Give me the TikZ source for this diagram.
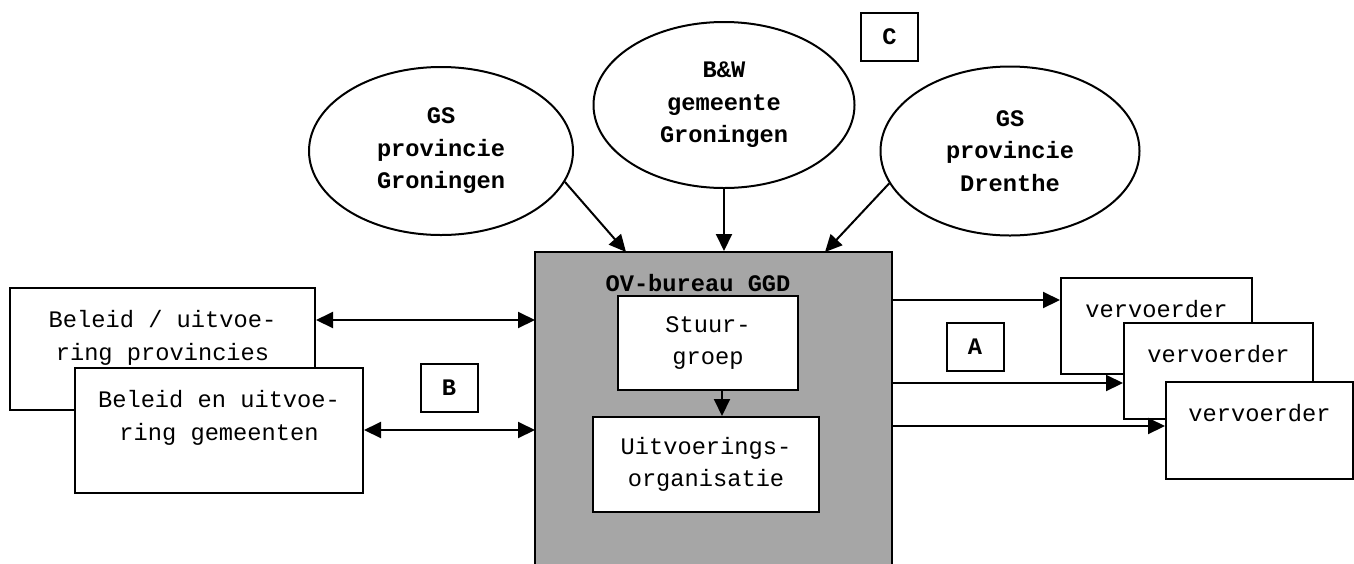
\documentclass[tikz,border=0pt]{standalone}
\usepackage{fontspec}
\setmainfont{Liberation Mono}
\usetikzlibrary{arrows.meta,positioning,shapes.geometric}

\begin{document}
\begin{tikzpicture}[x=0.5pt,y=-0.5pt]
						\tikzstyle{every node}=[font=\fontsize{11.85}{16.25}\selectfont]
						\tikzstyle{organ}=[ellipse,draw=black,line width=1pt,align=center,inner sep=0pt,font=\fontsize{11.85}{16.25}\selectfont\bfseries]
						\tikzstyle{box}=[rectangle,draw=black,line width=1pt,fill=white,align=center,inner sep=0pt]
						\tikzstyle{tag}=[rectangle,draw=black,line width=1pt,fill=white,minimum width=28.5pt,minimum height=24pt,font=\fontsize{11.85}{16.25}\selectfont\bfseries]
						\tikzstyle{toptxt}=[inner sep=0pt,align=center]
						\tikzstyle{link}=[line width=1pt,-{Triangle[length=8.5pt,width=8pt]}]
						\tikzstyle{duplex}=[line width=1pt,{Triangle[length=8.5pt,width=8pt]}-{Triangle[length=8.5pt,width=8pt]}]
						\useasboundingbox (0,0) rectangle (1354,563);
						\clip (0,0) rectangle (1354,563);
						\fill[white] (0,0) rectangle (1354,563);
						% besturen
						\node[organ,minimum width=132pt,minimum height=84pt] (gsgr) at (441,151) {GS\\provincie\\Groningen};
						\node[organ,minimum width=130.5pt,minimum height=83pt] (bw) at (724,105) {B\&W\\gemeente\\Groningen};
						\node[organ,minimum width=129.5pt,minimum height=84.5pt] (gsdr) at (1010,151) {GS\\provincie\\Drenthe};
						\node[tag] (c) at (889.5,36.5) {C};
						% ov-bureau
						\node[box,fill=black!35,minimum width=178.5pt,minimum height=164pt] (ov) at (713.5,416) {};
						\node[font=\fontsize{11.85}{16.25}\selectfont\bfseries] (ovname) at (698,283) {OV-bureau GGD};
						\node[box,minimum width=90pt,minimum height=47pt] (stuur) at (708,343) {Stuur-\\groep};
						\node[box,minimum width=113pt,minimum height=47.5pt] (uitv) at (706,464.5) {Uitvoerings-\\organisatie};
						% beleid
						\node[box,minimum width=152.5pt,minimum height=61pt] (b1) at (162.5,349) {};
						\node[toptxt,below=11.5pt of b1.north] (b1t) {Beleid / uitvoe-\\ring provincies};
						\node[box,minimum width=144pt,minimum height=62.5pt] (b2) at (219,430.5) {};
						\node[toptxt,below=11.5pt of b2.north] (b2t) {Beleid en uitvoe-\\ring gemeenten};
						\node[tag] (b) at (449,388) {B};
						% vervoerders
						\node[box,minimum width=95.5pt,minimum height=48pt] (v1) at (1156.5,326) {};
						\node[toptxt,below=11.5pt of v1.north] (v1t) {vervoerder};
						\node[box,minimum width=94.5pt,minimum height=48pt] (v2) at (1218.5,371) {};
						\node[toptxt,below=11.5pt of v2.north] (v2t) {vervoerder};
						\node[box,minimum width=93.5pt,minimum height=48.5pt] (v3) at (1259.5,430.5) {};
						\node[toptxt,below=11.5pt of v3.north] (v3t) {vervoerder};
						\node[tag] (a) at (975,347) {A};
						% pijlen
						\coordinate (ovin1) at (626,252);
						\coordinate (ovin3) at (825,252);
						\coordinate (ovl1) at (535,320);
						\coordinate (ovl2) at (535,430);
						\coordinate (ovr1) at (892,300);
						\coordinate (ovr2) at (892,383);
						\coordinate (ovr3) at (892,426);
						\draw[link] (gsgr.-14) -- (ovin1);
						\draw[link] (bw.south) -- (bw.south |- ov.north);
						\draw[link] (gsdr.195) -- (ovin3);
						\draw[duplex] (b1.east |- ovl1) -- (ovl1);
						\draw[duplex] (b2.east |- ovl2) -- (ovl2);
						\draw[link] (ovr1) -- (ovr1 -| v1.west);
						\draw[link] (ovr2) -- (ovr2 -| v2.west);
						\draw[link] (ovr3) -- (ovr3 -| v3.west);
						\draw[link] ([xshift=7pt]stuur.south) -- ([xshift=7pt]stuur.south |- uitv.north);
						\end{tikzpicture}
\end{document}
